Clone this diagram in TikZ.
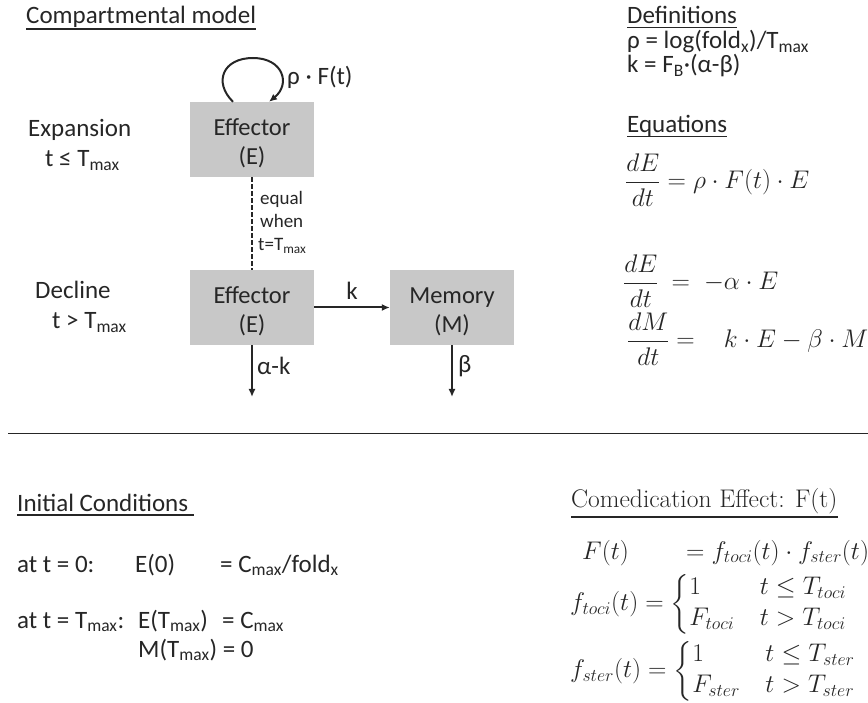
\RequirePackage{fix-cm}
\documentclass[tikz,border=0pt]{standalone}
\usepackage{amsmath}
\usepackage{fontspec}
\newfontfamily\calib{Carlito}
\usetikzlibrary{arrows.meta}
\definecolor{ink}{RGB}{38,38,38}
\definecolor{boxgray}{RGB}{200,200,200}
\begin{document}
\begin{tikzpicture}[x=1pt,y=-1pt,
  txt/.style={inner sep=0pt, text=ink, font=\calib\fontsize{25}{29}\selectfont},
  small/.style={inner sep=0pt, text=ink, font=\calib\fontsize{19}{23}\selectfont},
  mth/.style={inner sep=0pt, text=ink, font=\fontsize{25.5}{26}\selectfont},
  serifhead/.style={inner sep=0pt, text=ink, font=\fontsize{25.5}{29}\selectfont},
  comp/.style={fill=boxgray, minimum width=124pt, minimum height=75pt, inner sep=0pt},
  comptext/.style={inner sep=0pt, align=center, text=ink, font=\calib\fontsize{24.5}{29}\selectfont},
  arr/.style={draw=ink, line width=2pt, -{Latex[length=8pt,width=7pt]}},
  uline/.style={draw=ink, line width=1.3pt}]
\useasboundingbox (0,0) rectangle (868,703);

% ---- compartmental model ----
\node[txt, anchor=base west] (hcomp) at (26,24) {Compartmental model};
\draw[uline] ([yshift=-5pt]hcomp.base west) -- ([yshift=-5pt]hcomp.base east);

\node[txt, anchor=base west] (lexp) at (28,137) {Expansion};
\node[txt, anchor=base west] (lexpt) at (45,167) {t ≤ T\textsubscript{max}};
\node[txt, anchor=base west] (ldec) at (35,299) {Decline};
\node[txt, anchor=base west] (ldect) at (52,329) {t > T\textsubscript{max}};

\node[comp] (e1) at (252,139.5) {};
\node[comp] (e2) at (252,307.5) {};
\node[comp] (mem) at (452,307.5) {};
\node[comptext] (e1t) at ([yshift=-4pt]e1.center) {Effector\\(E)};
\node[comptext] (e2t) at ([yshift=-4pt]e2.center) {Effector\\(E)};
\node[comptext] (memt) at ([yshift=-4pt]mem.center) {Memory\\(M)};

\draw[arr] ([xshift=-19pt]e1.north) .. controls (213,82) and (223,58) .. (253,58)
  .. controls (283,58) and (291,84) .. ([xshift=17pt]e1.north);
\node[txt, anchor=base west] (rho) at (287,85) {ρ · F(t)};

\draw[draw=ink, line width=2pt, dash pattern=on 4.5pt off 2.5pt] (e1.south) -- (e2.north);
\node[small, anchor=base west] (eqa) at (260,205) {equal};
\node[small, anchor=base west] (eqb) at (260,228) {when};
\node[small, anchor=base west] (eqc) at (258,251) {t=T\textsubscript{max}};

\draw[arr] (e2) -- (mem);
\node[txt, anchor=base] (klab) at (352,300) {k};

\coordinate (ea) at (252,397);
\coordinate (mb) at (452,397);
\draw[arr] (e2.south) -- (ea);
\draw[arr] (mem.south) -- (mb);
\node[txt, anchor=base west] (alab) at (257,375) {α-k};
\node[txt, anchor=base west] (blab) at (458,373) {β};

% ---- definitions / equations ----
\node[txt, anchor=base west] (hdef) at (627,24) {Definitions};
\draw[uline] ([yshift=-3.5pt]hdef.base west) -- ([yshift=-3.5pt]hdef.base east);
\node[txt, anchor=base west] (drho) at (627,49) {ρ = log(fold\textsubscript{x})/T\textsubscript{max}};
\node[txt, anchor=base west] (dk) at (627,73) {k = F\textsubscript{B}·(α-β)};
\node[txt, anchor=base west] (heq) at (627,133) {Equations};
\draw[uline] ([yshift=-3.5pt]heq.base west) -- ([yshift=-3.5pt]heq.base east);

\node[mth, anchor=west] (m1) at (625,180) {$\displaystyle\frac{dE}{dt}=\rho\cdot F(t)\cdot E$};
\node[mth, anchor=west] (m2) at (623,281) {$\displaystyle\frac{dE}{dt}\hspace{6pt}=\hspace{7pt}-\alpha\cdot E$};
\node[mth, anchor=west] (m3) at (627,339) {$\displaystyle\frac{dM}{dt}=\hspace{22pt}k\cdot E-\beta\cdot M$};

% ---- separator ----
\coordinate (sepL) at (8,433);
\coordinate (sepR) at (868,433);
\draw[draw=ink, line width=1pt] (sepL) -- (sepR);

% ---- initial conditions ----
\node[txt, anchor=base west] (hinit) at (17,511) {Initial Conditions};
\draw[uline] ([yshift=-4pt]hinit.base west) -- ([yshift=-4pt,xshift=6pt]hinit.base east);
\node[txt, anchor=base west] (ic1) at (17,572) {at t = 0:};
\node[txt, anchor=base west] (ic1b) at (135,572) {E(0)};
\node[txt, anchor=base west] (ic1c) at (220,572) {= C\textsubscript{max}/fold\textsubscript{x}};
\node[txt, anchor=base west] (ic2) at (17,628) {at t = T\textsubscript{max}:};
\node[txt, anchor=base west] (ic2b) at (138,628) {E(T\textsubscript{max})};
\node[txt, anchor=base west] (ic2c) at (222,628) {= C\textsubscript{max}};
\node[txt, anchor=base west] (ic3) at (138,657) {M(T\textsubscript{max}) = 0};

% ---- comedication ----
\node[serifhead, anchor=base west] (hcom) at (571,507) {Comedication Effect: F(t)};
\draw[uline] ([yshift=-10pt]hcom.base west) -- ([yshift=-10pt]hcom.base east);
\node[mth, anchor=base west] (Ft) at (582,559) {$F(t)$};
\node[mth, anchor=base west] (Ftr) at (686,559) {$=f_{toci}(t)\cdot f_{ster}(t)$};
\node[mth, anchor=west] (ftoci) at (570,604) {$\displaystyle f_{toci}(t)=\begin{cases}1 & t\le T_{toci}\\ F_{toci} & t>T_{toci}\end{cases}$};
\node[mth, anchor=west] (fster) at (570,671) {$\displaystyle f_{ster}(t)=\begin{cases}1 & t\le T_{ster}\\ F_{ster} & t>T_{ster}\end{cases}$};
\end{tikzpicture}
\end{document}
